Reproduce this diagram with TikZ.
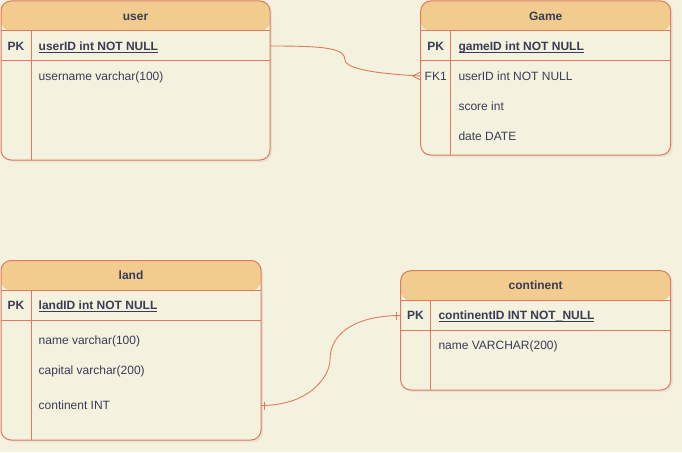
\documentclass[tikz,border=0pt]{standalone}
\usepackage{fontspec}
\setmainfont{Liberation Sans}
\usetikzlibrary{shadows}

\definecolor{erbg}{HTML}{F4F1DE}
\definecolor{erhead}{HTML}{F2CC8F}
\definecolor{erline}{HTML}{E07A5F}
\definecolor{ertext}{HTML}{393C56}

\newcommand{\erfont}{\fontsize{12pt}{14pt}\selectfont}
\newcommand{\keyname}[1]{\underline{\smash{#1}}}

\tikzset{
	tablebox/.style={rectangle, draw=erline, line width=1pt, fill=erbg, rounded corners=10pt, inner sep=0pt, outer sep=0pt,
		drop shadow={opacity=0.12, shadow xshift=2pt, shadow yshift=-2pt},
		path picture={\fill[erhead] (path picture bounding box.north west) rectangle ([yshift=-30pt]path picture bounding box.north east);}},
	rowline/.style={draw=erline, line width=1pt},
	relline/.style={draw=erline, line width=0.9pt},
	titletext/.style={inner sep=0pt, text=ertext, font=\erfont\bfseries, text height=8.6pt, text depth=0pt},
	keylabel/.style={titletext},
	fklabel/.style={inner sep=0pt, text=ertext, font=\erfont, text height=8.6pt, text depth=0pt},
	fieldtext/.style={anchor=west, inner sep=0pt, text=ertext, font=\erfont, text height=8.6pt, text depth=0pt},
	keyfield/.style={fieldtext, font=\erfont\bfseries}
}

\begin{document}
\begin{tikzpicture}[x=1pt,y=-1pt]
	\useasboundingbox[fill=erbg] (0,0) rectangle (682,452);

	% tables
	\node[tablebox, minimum width=269pt, minimum height=159pt] (user) at (135.5,80.5) {};
	\node[tablebox, minimum width=250pt, minimum height=154pt] (game) at (545.7,78) {};
	\node[tablebox, minimum width=260pt, minimum height=179.5pt] (land) at (131,350.25) {};
	\node[tablebox, minimum width=270pt, minimum height=119.3pt] (continent) at (535.7,330.35) {};

	\draw[rowline] ([yshift=-30pt]user.north west) -- ([yshift=-30pt]user.north east);
	\draw[rowline] ([yshift=-60pt]user.north west) -- ([yshift=-60pt]user.north east);
	\draw[rowline] ([xshift=30pt,yshift=-30pt]user.north west) -- ([xshift=30pt]user.south west);

	\draw[rowline] ([yshift=-30pt]game.north west) -- ([yshift=-30pt]game.north east);
	\draw[rowline] ([yshift=-59.5pt]game.north west) -- ([yshift=-59.5pt]game.north east);
	\draw[rowline] ([xshift=30pt,yshift=-30pt]game.north west) -- ([xshift=30pt]game.south west);

	\draw[rowline] ([yshift=-30pt]land.north west) -- ([yshift=-30pt]land.north east);
	\draw[rowline] ([yshift=-60pt]land.north west) -- ([yshift=-60pt]land.north east);
	\draw[rowline] ([xshift=30pt,yshift=-30pt]land.north west) -- ([xshift=30pt]land.south west);

	\draw[rowline] ([yshift=-29.6pt]continent.north west) -- ([yshift=-29.6pt]continent.north east);
	\draw[rowline] ([yshift=-59.6pt]continent.north west) -- ([yshift=-59.6pt]continent.north east);
	\draw[rowline] ([xshift=29.3pt,yshift=-29.6pt]continent.north west) -- ([xshift=29.3pt]continent.south west);

	% user
	\node[titletext] (usertitle) at (135.5,16) {user};
	\node[keylabel] (userpk) at (16,46) {PK};
	\node[keyfield] (userid) at (38.5,46) {\keyname{userID int NOT NULL}};
	\node[fieldtext] (username) at (38.5,76) {username varchar(100)};

	% Game
	\node[titletext] (gametitle) at (545.7,16) {Game};
	\node[keylabel] (gamepk) at (435.7,46) {PK};
	\node[fklabel] (gamefk) at (435.7,76) {FK1};
	\node[keyfield] (gameid) at (458.3,46) {\keyname{gameID int NOT NULL}};
	\node[fieldtext] (gameuser) at (458.3,76) {userID int NOT NULL};
	\node[fieldtext] (gamescore) at (458.3,106) {score int};
	\node[fieldtext] (gamedate) at (458.3,136) {date DATE};

	% land
	\node[titletext] (landtitle) at (131,275.5) {land};
	\node[keylabel] (landpk) at (16,305.5) {PK};
	\node[keyfield] (landid) at (38.5,305.5) {\keyname{landID int NOT NULL}};
	\node[fieldtext] (landname) at (38.5,340.5) {name varchar(100)};
	\node[fieldtext] (landcapital) at (38.5,370.5) {capital varchar(200)};
	\node[fieldtext] (landcont) at (38.5,405.5) {continent INT};

	% continent
	\node[titletext] (conttitle) at (535.7,285.5) {continent};
	\node[keylabel] (contpk) at (415.4,315.5) {PK};
	\node[keyfield] (contid) at (438.3,315.5) {\keyname{continentID INT NOT\_NULL}};
	\node[fieldtext] (contname) at (438.3,345.5) {name VARCHAR(200)};

	% relations
	\coordinate (userend) at (user.east |- userid.west);
	\coordinate (gameend) at (game.west |- gameuser.west);
	\draw[relline] (userend) .. controls +(55,0) and +(0,-12) .. (345,60) .. controls +(0,6) and +(-60,-3) .. (gameend);
	\draw[relline] ([xshift=-8pt]gameend) -- ([yshift=4pt]gameend);
	\draw[relline] ([xshift=-8pt]gameend) -- ([yshift=-4pt]gameend);

	\coordinate (landend) at (land.east |- landcont.west);
	\coordinate (contend) at (continent.west |- contid.west);
	\draw[relline] (landend) .. controls +(50,0) and +(0,15) .. (330,360) .. controls +(0,-30) and +(-40,0) .. (contend);
	\draw[relline] ([xshift=3pt,yshift=4pt]landend) -- ([xshift=3pt,yshift=-4pt]landend);
	\draw[relline] ([xshift=-4pt,yshift=4pt]contend) -- ([xshift=-4pt,yshift=-4pt]contend);
\end{tikzpicture}
\end{document}
